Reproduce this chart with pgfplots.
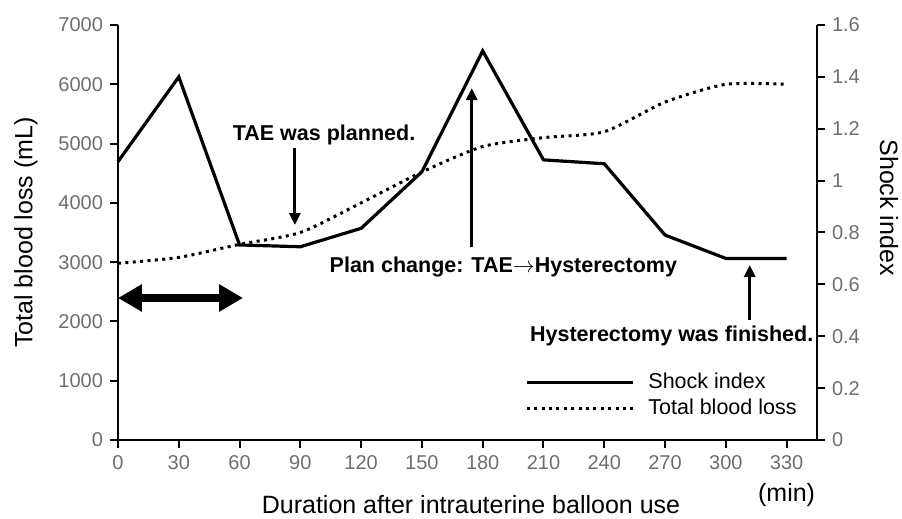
\documentclass[border=0pt]{standalone}
\usepackage{fontspec}
\setmainfont{Liberation Sans}
\usepackage{pgfplots}
\pgfplotsset{compat=1.18}
\usetikzlibrary{arrows.meta}
\definecolor{tickgray}{RGB}{110,110,110}

\pgfplotstableread{
t   loss
0   2980
30  3080
60  3300
90  3500
120 4000
150 4520
180 4950
210 5100
240 5200
270 5700
300 6000
330 6000
}\losstable

\pgfplotstableread{
t   si
0   1.073
30  1.40
60  0.752
90  0.745
120 0.816
150 1.034
180 1.50
210 1.08
240 1.065
270 0.79
300 0.70
330 0.70
}\sitable

\begin{document}
\begin{tikzpicture}
\path[use as bounding box] (-59pt,-39.5pt) rectangle (392pt,220pt);
\pgfplotsset{
  common/.style={
    at={(0,0)}, anchor=south west,
    scale only axis, width=349.5pt, height=207.5pt,
    xmin=0, xmax=345,
    clip=false,
    axis line style={line width=1pt, black},
    tick style={line width=1pt, black},
    major tick length=4pt,
    tick align=outside,
    ticklabel style={font=\fontsize{10}{12}\selectfont, text=tickgray},
    /pgf/number format/assume math mode=true,
    label style={font=\fontsize{12.5}{15}\selectfont},
  },
  dotstyle/.style={line width=1.5pt, dash pattern=on 1.5pt off 2.2pt, black},
  solidstyle/.style={line width=1.6pt, black},
}
\begin{axis}[common,
  axis x line*=bottom, axis y line*=left,
  ymin=0, ymax=7000, ytick={0,1000,...,7000},
  xtick={0,30,...,330},
  y tick label style={/pgf/number format/1000 sep={}},
  ylabel={Total blood loss (mL)},
  xlabel={Duration after intrauterine balloon use},
  xlabel style={at={(axis description cs:0.505,-0.1566)}, anchor=center},
  ylabel style={at={(axis description cs:-0.1316,0.5)}, anchor=center},
]
\addplot[dotstyle, smooth, tension=0.4] table[x=t, y=loss] {\losstable};

\node[font=\bfseries\fontsize{10.75}{13}\selectfont] at (axis cs:101.7,5144) {TAE was planned.};
\draw[line width=1.5pt, -{Triangle[width=5.5pt,length=6pt]}] (axis cs:87.3,4925) -- (axis cs:87.3,3626);
\node[font=\bfseries\fontsize{10.75}{13}\selectfont] at (axis cs:190.2,2918) {Plan change: TAE$\rightarrow$Hysterectomy};
\draw[line width=1.5pt, -{Triangle[width=5.5pt,length=6pt]}] (axis cs:174.6,3255) -- (axis cs:174.6,5937);
\node[font=\bfseries\fontsize{10.75}{13}\selectfont] at (axis cs:273.3,1754) {Hysterectomy was finished.};
\draw[line width=1.5pt, -{Triangle[width=5.5pt,length=6pt]}] (axis cs:311.8,2024) -- (axis cs:311.8,2952);
\draw[line width=4pt, {Triangle[width=13pt,length=12pt]}-{Triangle[width=13pt,length=12pt]}] (axis cs:0,2395) -- (axis cs:61.7,2395);
\node[font=\fontsize{12.5}{15}\selectfont] at (axis cs:330,-930) {(min)};
\end{axis}

\begin{axis}[common,
  axis x line=none, axis y line*=right,
  ymin=0, ymax=1.6, ytick={0,0.2,0.4,0.6,0.8,1,1.2,1.4,1.6},
  ylabel={Shock index},
  ylabel style={at={(axis description cs:1.103,0.56)}, anchor=center, rotate=180},
  legend style={at={(axis description cs:0.582,0.108)}, anchor=west, draw=none, fill=none,
    inner sep=0pt, font=\fontsize{10.75}{13}\selectfont,
    nodes={text height=8pt, text depth=2pt, inner ysep=1.5pt},
    /tikz/every odd column/.append style={column sep=5pt}},
  legend cell align=left,
  legend image code/.code={\draw[#1] (0pt,0pt) -- (53pt,0pt);},
]
\addplot[solidstyle] table[x=t, y=si] {\sitable};
\addlegendentry{Shock index}
\addlegendimage{dotstyle}
\addlegendentry{Total blood loss}
\end{axis}
\end{tikzpicture}
\end{document}
